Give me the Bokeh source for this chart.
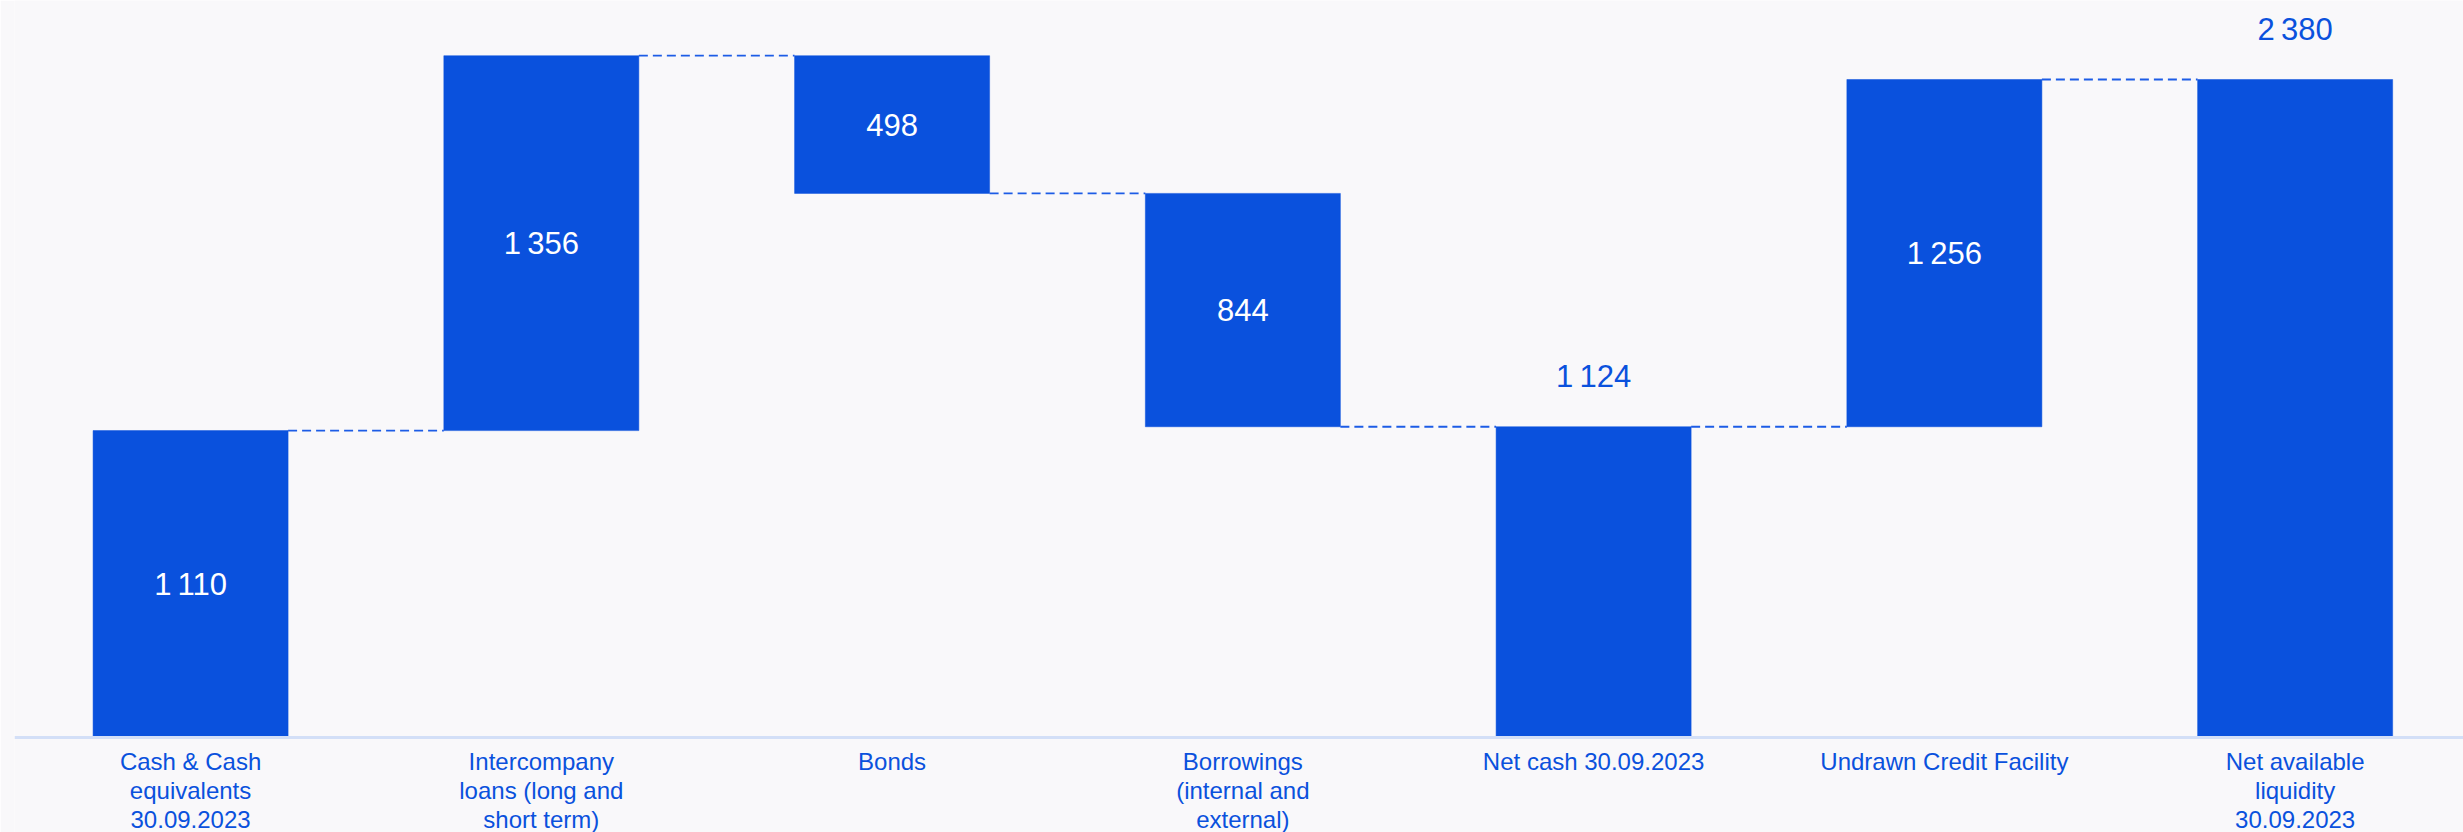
from bokeh.plotting import figure
from bokeh.models import Range1d, ColumnDataSource, Span
from bokeh.core.properties import value
from bokeh.embed import file_html
from bokeh.resources import INLINE

# ---- data ----
categories = [
    "Cash & Cash\nequivalents\n30.09.2023",
    "Intercompany\nloans (long and\nshort term)",
    "Bonds",
    "Borrowings\n(internal and\nexternal)",
    "Net cash 30.09.2023",
    "Undrawn Credit Facility",
    "Net available\nliquidity\n30.09.2023",
]
steps = [1110, 1356, -498, -844, 0, 1256, 0]
is_total = [False, False, False, False, True, False, True]
label_above = [False, False, False, False, True, False, True]

# ---- derived waterfall geometry ----
xs, bottoms, tops, amounts = [], [], [], []
running = 0
for i, (s, tot) in enumerate(zip(steps, is_total)):
    if tot:
        b, t = 0, running
        amt = running
    else:
        b, t = running, running + s
        running += s
        amt = abs(s)
    xs.append(i)
    bottoms.append(min(b, t))
    tops.append(max(b, t))
    amounts.append(amt)

def fmt(v):
    return f"{v:,}".replace(",", "\u2009")

BLUE = "#0a51dd"
BG = "#f9f8fa"
BAR_W = 0.556

p = figure(width=2463, height=832, output_backend="svg", toolbar_location=None,
           x_range=Range1d(-0.502, 6.480), y_range=Range1d(-343.6, 2665.7),
           x_axis_location=None, y_axis_location=None,
           min_border_left=14, min_border_right=0,
           min_border_top=0, min_border_bottom=0)
p.background_fill_color = BG
p.border_fill_color = BG
p.outline_line_color = None
p.xgrid.visible = False
p.ygrid.visible = False

# baseline (category axis line)
p.add_layout(Span(location=0, dimension="width", line_color="#d3dff7", line_width=3))

bars = ColumnDataSource(dict(x=xs, bottom=bottoms, top=tops))
p.vbar(x="x", bottom="bottom", top="top", width=BAR_W, source=bars,
       fill_color=BLUE, line_color=BLUE, line_width=0.5)

# connectors
cx0, cx1, cy = [], [], []
for i in range(len(xs) - 1):
    level = tops[i] if (is_total[i] or steps[i] >= 0) else bottoms[i]
    cx0.append(xs[i] + BAR_W / 2)
    cx1.append(xs[i + 1] - BAR_W / 2)
    cy.append(level)
p.segment(x0=cx0, y0=cy, x1=cx1, y1=cy, line_color="#1d5ce6", line_width=1.8,
          line_dash="9 5")

# value labels
inx, iny, intext, abx, aby, abtext = [], [], [], [], [], []
for i in range(len(xs)):
    if label_above[i]:
        abx.append(xs[i]); aby.append(tops[i]); abtext.append(fmt(amounts[i]))
    else:
        inx.append(xs[i]); iny.append((tops[i] + bottoms[i]) / 2); intext.append(fmt(amounts[i]))

NUM_FONT = value("Liberation Sans")
p.text(x=inx, y=iny, text=intext, text_color="white", text_font=NUM_FONT,
       text_font_size="31px", text_align="center", text_baseline="middle")
p.text(x=abx, y=aby, text=abtext, text_color=BLUE, text_font=NUM_FONT,
       text_font_size="31px", text_align="center", text_baseline="middle", y_offset=-50)

# category labels below the baseline
p.text(x=xs, y=[0] * len(xs), text=categories, text_color=BLUE,
       text_font=value("Liberation Sans"), text_font_size="24px",
       text_align="center", text_baseline="top", text_line_height=1.08, y_offset=10)

open("out.html", "w").write(file_html(p, INLINE))
